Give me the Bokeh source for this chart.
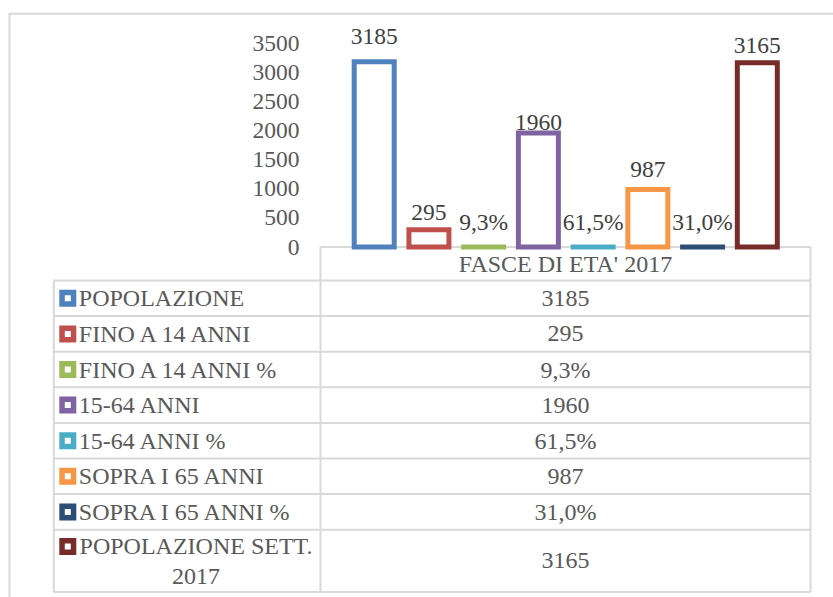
from bokeh.plotting import figure
from bokeh.models import Range1d, LinearAxis, FixedTicker
from bokeh.core.properties import value
from bokeh.embed import file_html
from bokeh.resources import INLINE

# ---------------- data ----------------
category = "FASCE DI ETA' 2017"
series = ["POPOLAZIONE", "FINO A 14 ANNI", "FINO A 14 ANNI %", "15-64 ANNI",
          "15-64 ANNI %", "SOPRA I 65 ANNI", "SOPRA I 65 ANNI %",
          "POPOLAZIONE SETT.\n2017"]
values = [3185, 295, 0.093, 1960, 0.615, 987, 0.310, 3165]
is_percent = [False, False, True, False, True, False, True, False]
y_ticks = [0, 500, 1000, 1500, 2000, 2500, 3000, 3500]

# ---------------- style ----------------
colors = ["#4F81BD", "#C0504D", "#9BBB59", "#8064A2",
          "#4BACC6", "#F79646", "#2C4D75", "#772C2A"]
label_offsets = [25, 17, 25, 10, 25, 20, 25, 17]  # px above bar top
FONT = value("Liberation Serif")
GRID = "#D9D9D9"
TXT = "#595959"


def fmt(v, pct):
    return (f"{v * 100:.1f}%".replace(".", ",")) if pct else f"{v:.0f}"


labels = [fmt(v, p) for v, p in zip(values, is_percent)]

# ---------------- layout (page pixels) ----------------
W, H = 833, 597
BASE = 246.5          # pixel row of value 0
PXU = 0.0582          # pixels per unit
BAR0, PITCH = 373.7, 54.73
PLOT_L, PLOT_R = 320.0, 810.0
TABLE_L = 53.3
ROW_H = 35.6
FIRST = 280.0
LAST_H = 62.3

p = figure(width=W, height=H, output_backend="svg", toolbar_location=None,
           x_range=Range1d(-BAR0 / PITCH, (W - BAR0) / PITCH),
           y_range=Range1d(-(H - BASE) / PXU, BASE / PXU),
           x_axis_location=None, y_axis_location=None,
           min_border=0, outline_line_color=None)
p.extra_x_ranges = {"px": Range1d(0, W)}
p.extra_y_ranges = {"px": Range1d(H, 0)}
p.background_fill_color = "white"
p.border_fill_color = "white"
for g in p.grid:
    g.visible = False
p.xgrid.grid_line_color = None
p.ygrid.grid_line_color = None

# y axis drawn at the plot-area's left edge
yaxis = LinearAxis(ticker=FixedTicker(ticks=y_ticks),
                   fixed_location=(PLOT_L - BAR0) / PITCH,
                   axis_line_color=None, major_tick_line_color=None,
                   minor_tick_line_color=None, major_tick_in=0, major_tick_out=0,
                   major_label_standoff=21,
                   major_label_text_font="Liberation Serif",
                   major_label_text_font_size="23.5px",
                   major_label_text_color=TXT)
p.add_layout(yaxis, "left")

# ---------------- table + border lines ----------------
n = len(series)
row_tops = [FIRST + i * ROW_H for i in range(n)]
bottom = FIRST + (n - 1) * ROW_H + LAST_H
row_bounds = row_tops + [bottom]
row_centers = [row_tops[i] + ROW_H / 2 for i in range(n - 1)] + [(row_tops[-1] + bottom) / 2]

x0 = [PLOT_L] + [TABLE_L] * len(row_bounds) + [TABLE_L, PLOT_L, PLOT_R] + [8, 9]
x1 = [PLOT_R] + [PLOT_R] * len(row_bounds) + [TABLE_L, PLOT_L, PLOT_R] + [W, 9]
y0 = [BASE] + row_bounds + [FIRST, BASE, BASE] + [13.3, 13.3]
y1 = [BASE] + row_bounds + [bottom, bottom, bottom] + [13.3, H]
p.segment(x0=x0, y0=y0, x1=x1, y1=y1, line_color=GRID, line_width=2,
          x_range_name="px", y_range_name="px")

# ---------------- bars ----------------
idx = list(range(n))
p.vbar(x=idx, top=values, bottom=0, width=40 / PITCH, fill_color="white",
       line_color=colors, line_width=5, line_join="miter")
p.text(x=idx, y=values, text=labels, y_offset=[-o for o in label_offsets],
       text_align="center", text_baseline="middle", text_font=FONT,
       text_font_size="23.5px", text_color="#404040")

# ---------------- table contents ----------------
p.text(x=[(PLOT_L + PLOT_R) / 2], y=[(BASE + FIRST) / 2], text=[category],
       text_align="center", text_baseline="middle", text_font=FONT,
       text_font_size="24px", text_color=TXT,
       x_range_name="px", y_range_name="px")

key_y = row_centers[:-1] + [row_tops[-1] + ROW_H / 2 - 1]
p.rect(x=[TABLE_L + 14] * n, y=key_y, width=17, height=17, fill_color=colors,
       line_color=None, x_range_name="px", y_range_name="px")
p.rect(x=[TABLE_L + 14] * n, y=key_y, width=6, height=6, fill_color="white",
       line_color=None, x_range_name="px", y_range_name="px")

p.text(x=[TABLE_L + 25] * (n - 1), y=row_centers[:-1], text=series[:-1],
       text_align="left", text_baseline="middle", text_font=FONT,
       text_font_size="24px", text_color=TXT,
       x_range_name="px", y_range_name="px")
p.text(x=[195.5], y=[row_centers[-1]], text=[series[-1]],
       text_align="center", text_baseline="middle", text_font=FONT,
       text_font_size="24px", text_color=TXT, text_line_height=1.14,
       x_range_name="px", y_range_name="px")

p.text(x=[(PLOT_L + PLOT_R) / 2] * n, y=row_centers, text=labels,
       text_align="center", text_baseline="middle", text_font=FONT,
       text_font_size="24px", text_color=TXT,
       x_range_name="px", y_range_name="px")

open("out.html", "w").write(file_html(p, INLINE))
